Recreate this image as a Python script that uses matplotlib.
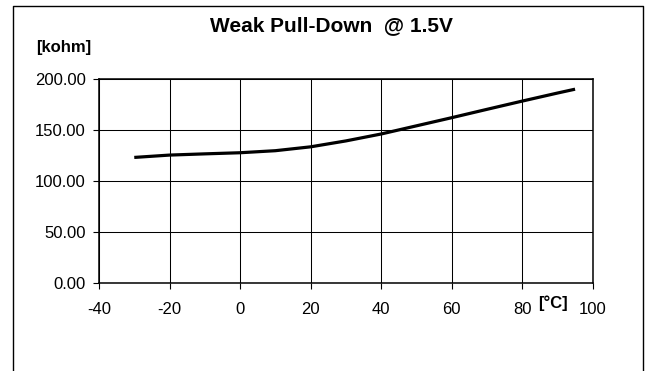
import matplotlib
matplotlib.use("Agg")
import matplotlib.pyplot as plt
from matplotlib.lines import Line2D

# Temperature [°C] and pull-down resistance [kohm]
temperature = [-30, -20, -10, 0, 10, 20, 30, 40, 50, 60, 70, 80, 90, 95]
resistance = [123.0, 125.3, 126.5, 127.6, 129.6, 133.4, 139.2, 146.0, 154.0, 162.0, 170.2, 178.3, 186.2, 190.0]

x_ticks = [-40, -20, 0, 20, 40, 60, 80, 100]
y_ticks = [0, 50, 100, 150, 200]
y_tick_labels = ["0.00", "50.00", "100.00", "150.00", "200.00"]

plt.rcParams["font.family"] = ["Liberation Sans", "DejaVu Sans"]
plt.rcParams["axes.unicode_minus"] = False

W, H = 647, 371
fig = plt.figure(figsize=(W / 100, H / 100), dpi=100)

# plot area in pixel coordinates
left, right, top, bottom = 99.0, 592.7, 79.0, 282.7
ax = fig.add_axes([left / W, 1 - bottom / H, (right - left) / W, (bottom - top) / H])

ax.plot(temperature, resistance, color="black", lw=2.3, solid_capstyle="butt", zorder=3)

ax.set_xlim(-40, 100)
ax.set_ylim(0, 200)
ax.set_xticks(x_ticks)
ax.set_yticks(y_ticks)
ax.set_yticklabels(y_tick_labels)
ax.grid(True, color="black", lw=0.75)
ax.tick_params(direction="out", length=4, width=0.8, labelsize=12, colors="black")
ax.tick_params(axis="y", pad=5.5)
ax.tick_params(axis="x", pad=10)
for s in ax.spines.values():
    s.set_linewidth(1.1)
    s.set_color("black")

fig.text(331 / W, 1 - 25.5 / H, "Weak Pull-Down  @ 1.5V", ha="center", va="center",
         fontsize=15, fontweight="bold")
fig.text(36 / W, 1 - 47.5 / H, "[kohm]", ha="left", va="center", fontsize=12, fontweight="bold")
fig.text(553 / W, 1 - 303 / H, "[°C]", ha="center", va="center", fontsize=12, fontweight="bold")

# outer chart frame, open at the bottom
frame_l, frame_r, frame_t = 12.7 / W, 642.7 / W, 1 - 5.5 / H
fig.add_artist(Line2D([frame_l, frame_l, frame_r, frame_r], [-0.05, frame_t, frame_t, -0.05],
                      transform=fig.transFigure, color="black", lw=1.0))

fig.savefig("out.png", dpi=100)
